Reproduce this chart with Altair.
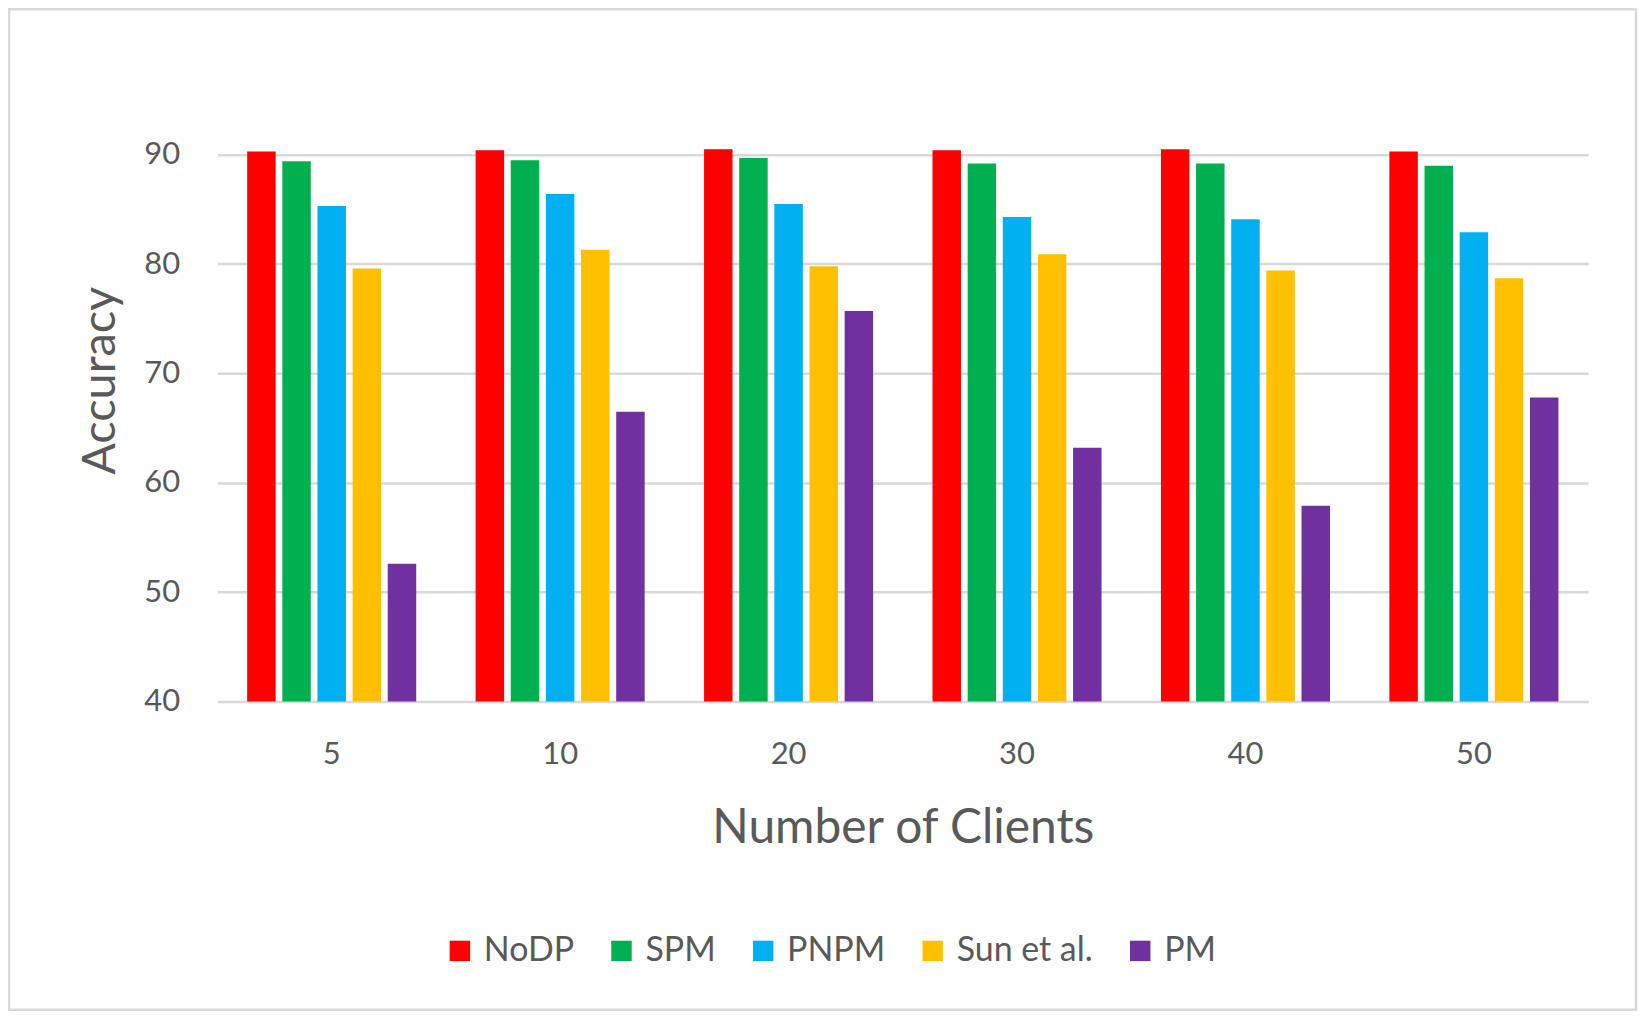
import altair as alt
import pandas as pd

clients = ["5", "10", "20", "30", "40", "50"]
methods = ["NoDP", "SPM", "PNPM", "Sun et al.", "PM"]
colors = ["#FF0000", "#00B050", "#00B0F0", "#FFC000", "#7030A0"]

nodp = [90.3, 90.4, 90.5, 90.4, 90.5, 90.3]
spm = [89.4, 89.5, 89.7, 89.2, 89.2, 89.0]
pnpm = [85.3, 86.4, 85.5, 84.3, 84.1, 82.9]
sun = [79.6, 81.3, 79.8, 80.9, 79.4, 78.7]
pm = [52.6, 66.5, 75.7, 63.2, 57.9, 67.8]

series = [nodp, spm, pnpm, sun, pm]
rows = []
for m, vals in zip(methods, series):
    for c, v in zip(clients, vals):
        rows.append({"clients": c, "method": m, "acc": v})
df = pd.DataFrame(rows)

FONT = "Lato"
TXT = "#595959"
GRID = "#D9D9D9"

bars = alt.Chart(df).mark_bar().encode(
    x=alt.X("clients:N", sort=clients,
            scale=alt.Scale(paddingInner=0.26, paddingOuter=0.13),
            axis=alt.Axis(title="Number of Clients", labelAngle=0, domain=False,
                          ticks=False, tickSize=0, labelPadding=38,
                          labelFont=FONT, labelFontSize=31, labelColor=TXT,
                          titleFont=FONT, titleFontSize=48, titleFontWeight="normal",
                          titleColor=TXT, titleBaseline="alphabetic", titleY=141)),
    xOffset=alt.XOffset("method:N", sort=methods,
                        scale=alt.Scale(domain=methods, paddingInner=0.19, paddingOuter=0)),
    y=alt.Y("acc:Q",
            scale=alt.Scale(domain=[40, 95], nice=False, zero=False),
            axis=alt.Axis(title="Accuracy", values=[40, 50, 60, 70, 80, 90],
                          domain=False, ticks=False, tickSize=0, labelPadding=38,
                          grid=True, gridColor=GRID, gridWidth=2.5,
                          labelFont=FONT, labelFontSize=31, labelColor=TXT,
                          titleFont=FONT, titleFontSize=47, titleFontWeight="normal",
                          titleColor=TXT, titleAngle=-90, titleBaseline="alphabetic",
                          titleX=-103, titleY=281, titleAlign="center")),
    y2=alt.datum(40),
    color=alt.Color("method:N", sort=methods,
                    scale=alt.Scale(domain=methods, range=colors),
                    legend=alt.Legend(title=None, orient="none", direction="horizontal",
                                      legendX=226, legendY=836,
                                      symbolType="square", symbolSize=420,
                                      symbolStrokeWidth=0, labelOffset=7,
                                      columnPadding=30,
                                      labelFont=FONT, labelFontSize=34,
                                      labelColor=TXT)),
)

frame = alt.Chart(alt.Data(values=[{}])).mark_rect(
    fill=None, stroke=GRID, strokeWidth=2.5
).encode(
    x=alt.value(-209), x2=alt.value(1422),
    y=alt.value(-91), y2=alt.value(912),
)

chart = alt.layer(bars, frame).properties(
    width=1374, height=603,
    autosize=alt.AutoSizeParams(type="none"),
    padding={"left": 210, "top": 91, "right": 50, "bottom": 311},
    background="white",
).configure_view(stroke=None)

chart.save("out.html", embed_options={"renderer": "svg", "actions": False})
